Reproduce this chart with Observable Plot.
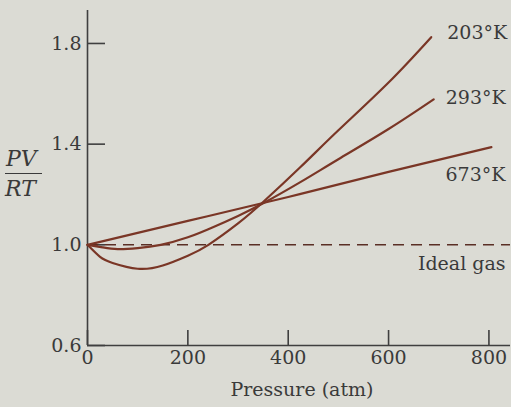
<!DOCTYPE html>
<html>
<head>
<meta charset="utf-8">
<script src="https://cdn.jsdelivr.net/npm/d3@7"></script>
<script src="https://cdn.jsdelivr.net/npm/@observablehq/plot@0.6"></script>
<style>
  html, body { margin: 0; padding: 0; background: #dbdbd4; }
  #wrap { position: relative; width: 511px; height: 407px; background: #dbdbd4; }
  #wrap svg { position: absolute; left: 0; top: 0; z-index: 0; }
  .frac { position: absolute; z-index: 2; font-family: "DejaVu Serif", serif; font-style: italic; font-size: 22px; line-height: 22px; color: #3a3a3a; }
  #bar { position: absolute; z-index: 2; left: 5px; top: 173px; width: 37px; height: 0; border-top: 1.5px solid #3a3a3a; }
</style>
</head>
<body>
<div id="wrap">
  <div class="frac" style="left:6px; top:148px;">PV</div>
  <div id="bar"></div>
  <div class="frac" style="left:5px; top:178px;">RT</div>
</div>
<script>
// Data
const pressure203 = [0, 25, 50, 100, 150, 200, 241, 300, 350, 425, 500, 600, 685];
const ratio203    = [1.0, 0.952, 0.928, 0.905, 0.918, 0.957, 1.0, 1.085, 1.17, 1.31, 1.455, 1.645, 1.825];
const pressure293 = [0, 30, 60, 100, 146, 200, 250, 300, 350, 425, 500, 600, 690];
const ratio293    = [1.0, 0.99, 0.983, 0.987, 1.0, 1.03, 1.07, 1.115, 1.165, 1.25, 1.34, 1.46, 1.578];
const pressure673 = [0, 200, 400, 600, 805];
const ratio673    = [1.0, 1.095, 1.19, 1.29, 1.388];
const seriesNames = ["203°K", "293°K", "673°K"];
const idealValue = 1.0;
const idealLabel = "Ideal gas";
const xTicks = [0, 200, 400, 600, 800];
const yTicks = [0.6, 1.0, 1.4, 1.8];
const xLabel = "Pressure (atm)";

const series = [
  {name: seriesNames[0], p: pressure203, r: ratio203},
  {name: seriesNames[1], p: pressure293, r: ratio293},
  {name: seriesNames[2], p: pressure673, r: ratio673}
];
const rows = series.flatMap(s => s.p.map((p, i) => ({series: s.name, p, r: s.r[i]})));
const ends = series.map(s => ({series: s.name, p: s.p[s.p.length - 1], r: s.r[s.r.length - 1]}));

const lineColor = "#7a3626";
const axisColor = "#3f3f3f";
const textColor = "#3a3a3a";
const labelOffsets = {"203°K": [76, -4], "293°K": [72, -1], "673°K": [14, 28]};

const chart = Plot.plot({
  width: 511,
  height: 407,
  marginLeft: 87,
  marginRight: 1,
  marginTop: 10,
  marginBottom: 62,
  style: {background: "#dbdbd4", fontFamily: "DejaVu Serif, serif", fontSize: "19px", color: textColor},
  x: {domain: [0, 843], axis: null},
  y: {domain: [0.6, 1.931], axis: null},
  marks: [
    Plot.ruleX([0], {stroke: axisColor, strokeWidth: 1.6}),
    Plot.ruleY([0.6], {stroke: axisColor, strokeWidth: 1.6}),
    Plot.tickY(yTicks, {y: d => d, stroke: axisColor, strokeWidth: 1.6, insetRight: 405}),
    Plot.tickX(xTicks, {x: d => d, stroke: axisColor, strokeWidth: 1.6, insetTop: 320}),
    Plot.axisY(yTicks, {tickSize: 0, tickPadding: 6, tickFormat: d3.format(".1f"), fontSize: 19, fill: textColor, label: null}),
    Plot.axisX(xTicks, {tickSize: 0, tickPadding: 5, fontSize: 19, fill: textColor, label: null}),
    Plot.text([xLabel], {frameAnchor: "bottom", dy: 50, fontSize: 19, fill: textColor, dx: 3}),
    Plot.ruleY([idealValue], {stroke: "#5a2f25", strokeWidth: 1.6, strokeDasharray: "11,7"}),
    Plot.text([idealLabel], {y: d => idealValue, frameAnchor: "right", textAnchor: "end", dx: -5, dy: 19, fontSize: 19, fill: textColor}),
    Plot.line(rows, {x: "p", y: "r", z: "series", stroke: lineColor, strokeWidth: 2.2, curve: "natural"}),
    ...ends.map(e => Plot.text([e], {x: "p", y: "r", text: "series", textAnchor: "end",
      dx: labelOffsets[e.series][0], dy: labelOffsets[e.series][1], fontSize: 19, fill: textColor}))
  ]
});
document.getElementById("wrap").insertBefore(chart, document.getElementById("wrap").firstChild);
</script>
</body>
</html>
